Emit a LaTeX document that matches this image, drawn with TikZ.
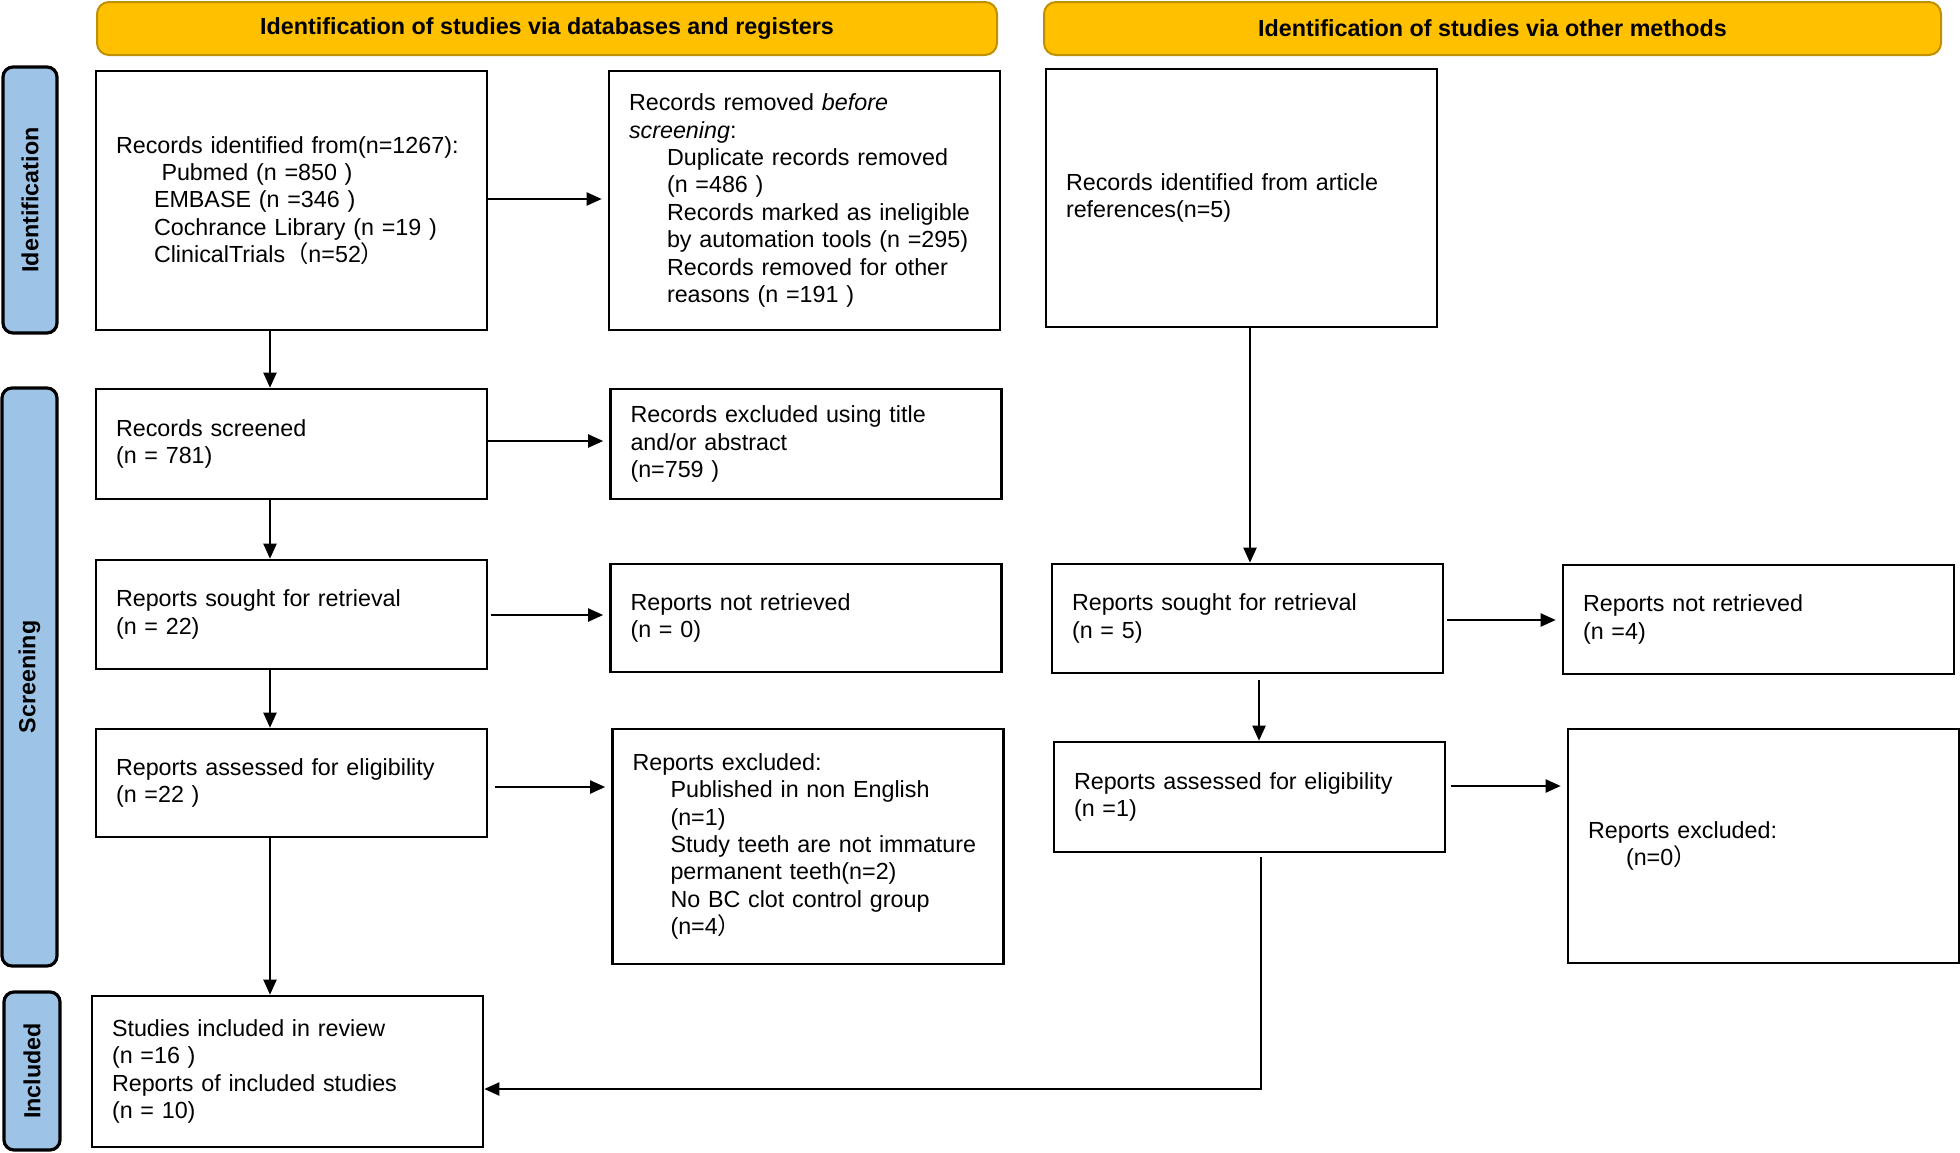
\documentclass[tikz,border=0pt]{standalone}
\usepackage{fontspec}
\setmainfont{Liberation Sans}
\newfontfamily\cjkfont{Noto Sans CJK SC}
\usetikzlibrary{arrows.meta}
\definecolor{hdrfill}{HTML}{FFC000}
\definecolor{hdrline}{HTML}{BF9000}
\definecolor{sidefill}{HTML}{9DC3E6}
\newcommand\bodyfont{\fontsize{11.65pt}{13.7pt}\selectfont}
\newcommand\indt{\hspace*{19pt}}
\begin{document}
\begin{tikzpicture}[x=0.5pt,y=-0.5pt,
 box/.style={draw=black, line width=1.3pt, fill=white, text width=175.5pt, inner xsep=10pt, inner ysep=0pt, align=left, font=\bodyfont},
 hdr/.style={draw=hdrline, fill=hdrfill, line width=1pt, rounded corners=6pt, font=\bfseries\bodyfont, minimum height=26.5pt},
 side/.style={draw=black, fill=sidefill, line width=1.6pt, rounded corners=5pt, rotate=90, font=\bfseries\bodyfont},
 arr/.style={line width=1pt, -{Triangle[length=7.5pt,width=6.5pt]}},
 harr/.style={arr, shorten >=3pt}
]
\useasboundingbox (0,0) rectangle (1960,1152);

% headers
\node[hdr, minimum width=450pt] (h1) at (547,28.5) {Identification of studies via databases and registers};
\node[hdr, minimum width=448.5pt] (h2) at (1492.5,28.5) {Identification of studies via other methods};

% side labels
\node[side, minimum width=133pt, minimum height=27pt] (sid) at (30,200) {Identification};
\node[side, minimum width=289pt, minimum height=27.5pt] (ssc) at (29.5,677) {Screening};
\node[side, minimum width=79pt, minimum height=28pt] (sin) at (32,1071) {Included};

% left column
\node[box, minimum height=129.5pt] (A) at (291.5,200.5) {Records identified from(n=1267):\\
\hspace*{22.75pt}Pubmed (n =850 )\\
\indt EMBASE (n =346 )\\
\indt Cochrance Library (n =19 )\\
\indt ClinicalTrials{\cjkfont （}n=52{\cjkfont ）}};

\node[box, minimum height=129.5pt] (B) at (804.5,200.5) {Records removed \textit{before}\\
\textit{screening}:\\
\indt Duplicate records removed\\
\indt (n =486 )\\
\indt Records marked as ineligible\\
\indt by automation tools (n =295)\\
\indt Records removed for other\\
\indt reasons (n =191 )};

\node[box, minimum height=55pt] (C) at (291.5,444) {Records screened\\(n = 781)};
\node[box, minimum height=55pt] (D) at (806,444) {Records excluded using title\\and/or abstract\\(n=759 )};
\node[box, minimum height=54.5pt] (E) at (291.5,614.5) {Reports sought for retrieval\\(n = 22)};
\node[box, minimum height=54pt] (F) at (806,618) {Reports not retrieved\\(n = 0)};
\node[box, minimum height=54pt] (G) at (291.5,783) {Reports assessed for eligibility\\(n =22 )};
\node[box, minimum height=117.5pt] (H) at (808,846.5) {Reports excluded:\\
\indt Published in non English\\
\indt (n=1)\\
\indt Study teeth are not immature\\
\indt permanent teeth(n=2)\\
\indt No BC clot control group\\
\indt (n=4{\cjkfont ）}};
\node[box, minimum height=75.5pt] (I) at (287.5,1071.5) {Studies included in review\\(n =16 )\\Reports of included studies\\(n = 10)};

% right column
\node[box, minimum height=129pt] (J) at (1241.5,198) {Records identified from article\\references(n=5)};
\node[box, minimum height=54.5pt] (K) at (1247.5,618.5) {Reports sought for retrieval\\(n = 5)};
\node[box, minimum height=54.5pt] (L) at (1758.5,619.5) {Reports not retrieved\\(n =4)};
\node[box, minimum height=55pt] (M) at (1249.5,797) {Reports assessed for eligibility\\(n =1)};
\node[box, minimum height=117pt] (N) at (1763.5,846) {Reports excluded:\\
\indt (n=0{\cjkfont ）}};

% helper coordinates
\coordinate (xl) at (270,0);
\coordinate (xr1) at (1250,0);
\coordinate (xr2) at (1259,0);
\coordinate (xr3) at (1261,0);
\coordinate (yab) at (0,199);
\coordinate (ycd) at (0,441);
\coordinate (yef) at (0,615);
\coordinate (ygh) at (0,787);
\coordinate (ykl) at (0,620);
\coordinate (ymn) at (0,786);
\coordinate (yb) at (0,1089);

% vertical arrows left
\draw[arr] (A.south -| xl) -- (C.north -| xl);
\draw[arr] (C.south -| xl) -- (E.north -| xl);
\draw[arr] (E.south -| xl) -- (G.north -| xl);
\draw[arr] (G.south -| xl) -- (I.north -| xl);

% horizontal arrows left
\draw[harr] (A.east |- yab) -- (B.west |- yab);
\draw[harr] (C.east |- ycd) -- (D.west |- ycd);
\draw[harr, shorten <=1.5pt] (E.east |- yef) -- (F.west |- yef);
\draw[harr, shorten <=3.5pt] (G.east |- ygh) -- (H.west |- ygh);

% right column arrows
\draw[arr] (J.south -| xr1) -- (K.north -| xr1);
\path (K.south -| xr2) ++(0,6) coordinate (km);
\draw[arr] (km) -- (M.north -| xr2);
\draw[harr, shorten <=1.5pt] (K.east |- ykl) -- (L.west |- ykl);
\draw[harr, shorten <=2.5pt] (M.east |- ymn) -- (N.west |- ymn);
\path (M.south -| xr3) ++(0,4) coordinate (mtop);
\draw[arr] (mtop) -- (xr3 |- yb) -- (I.east |- yb);
\end{tikzpicture}
\end{document}
